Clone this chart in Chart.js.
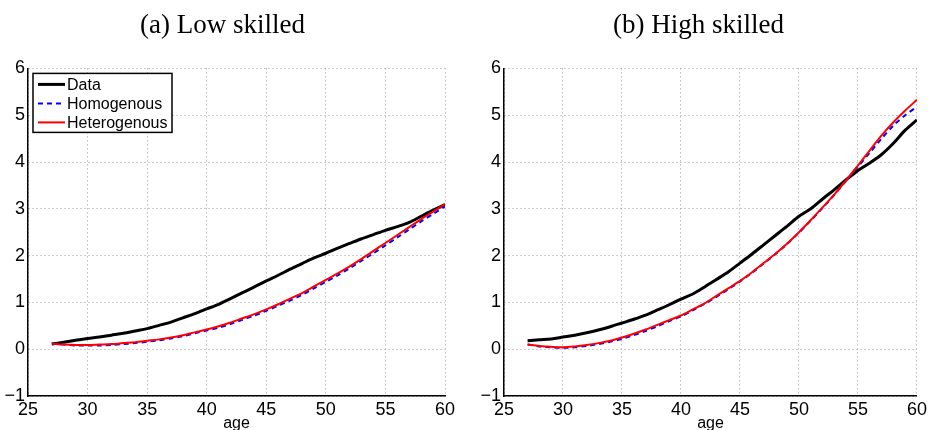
<!DOCTYPE html>
<html>
<head>
<meta charset="utf-8">
<script src="https://cdn.jsdelivr.net/npm/chart.js@4.4.1/dist/chart.umd.min.js"></script>
<style>
  body { margin: 0; background: #fff; width: 930px; height: 430px; overflow: hidden; position: relative; }
  .panel { position: absolute; top: 0; }
</style>
</head>
<body>
<div class="panel" style="left:0px;width:460px;height:430px"><canvas id="low"></canvas></div>
<div class="panel" style="left:476px;width:454px;height:430px"><canvas id="high"></canvas></div>
<script>
// ages 27..60
const ages = [27,28,29,30,31,32,33,34,35,36,37,38,39,40,41,42,43,44,45,46,47,48,49,50,51,52,53,54,55,56,57,58,59,60];

// (a) low skilled
const lowData = [0.11,0.15,0.19,0.23,0.26,0.30,0.34,0.39,0.44,0.51,0.58,0.67,0.76,0.86,0.96,1.08,1.21,1.33,1.46,1.58,1.71,1.83,1.95,2.05,2.16,2.26,2.36,2.45,2.54,2.62,2.71,2.84,2.97,3.09];
const lowHomo = [0.12,0.10,0.08,0.08,0.08,0.09,0.11,0.13,0.16,0.19,0.23,0.28,0.34,0.40,0.46,0.54,0.63,0.72,0.82,0.93,1.04,1.16,1.30,1.44,1.58,1.73,1.89,2.05,2.22,2.39,2.56,2.73,2.89,3.05];
const lowHetero = [0.12,0.10,0.09,0.09,0.10,0.11,0.13,0.15,0.18,0.21,0.25,0.30,0.36,0.42,0.49,0.57,0.66,0.75,0.85,0.96,1.08,1.20,1.34,1.48,1.62,1.77,1.93,2.10,2.27,2.44,2.61,2.78,2.94,3.10];

// (b) high skilled
const highData = [0.18,0.20,0.22,0.26,0.30,0.35,0.41,0.48,0.56,0.64,0.73,0.84,0.95,1.07,1.18,1.33,1.49,1.65,1.84,2.03,2.23,2.43,2.63,2.84,3.00,3.21,3.41,3.62,3.82,3.98,4.16,4.40,4.68,4.90];
const highHomo = [0.10,0.06,0.04,0.03,0.04,0.07,0.11,0.16,0.22,0.30,0.39,0.49,0.60,0.70,0.83,0.97,1.12,1.28,1.45,1.63,1.83,2.03,2.25,2.49,2.75,3.02,3.30,3.60,3.90,4.20,4.50,4.78,5.00,5.18];
const highHetero = [0.10,0.07,0.05,0.04,0.06,0.09,0.13,0.18,0.25,0.33,0.42,0.52,0.62,0.72,0.85,0.98,1.14,1.30,1.46,1.64,1.84,2.04,2.26,2.50,2.76,3.03,3.31,3.61,3.93,4.25,4.57,4.85,5.10,5.33];

const seriesNames = ['Data', 'Homogenous', 'Heterogenous'];
const xTicks = [25,30,35,40,45,50,55,60];
const yTicks = [-1,0,1,2,3,4,5,6];

function pts(ys) { return ages.map((a, i) => ({ x: a, y: ys[i] })); }

function makeSets(d, ho, he) {
  return [
    { label: seriesNames[0], data: pts(d), borderColor: '#000', borderWidth: 3, order: 3 },
    { label: seriesNames[1], data: pts(ho), borderColor: '#0000ff', borderWidth: 2, borderDash: [5, 4], order: 2 },
    { label: seriesNames[2], data: pts(he), borderColor: '#ff0000', borderWidth: 2, order: 1 }
  ];
}

// legend box drawn inside the plot, top-left
const boxLegend = {
  id: 'boxLegend',
  afterDraw(chart, args, opts) {
    if (!opts.show) return;
    const ctx = chart.ctx, a = chart.chartArea;
    const x0 = a.left + 5, y0 = a.top + 5, w = 139, h = 59;
    ctx.save();
    ctx.fillStyle = '#fff';
    ctx.fillRect(x0, y0, w, h);
    ctx.strokeStyle = '#000';
    ctx.lineWidth = 1.5;
    ctx.strokeRect(x0, y0, w, h);
    ctx.font = '16px "Liberation Sans", Arial, sans-serif';
    ctx.textBaseline = 'middle';
    chart.data.datasets.forEach((ds, i) => {
      const yy = y0 + 11 + i * 19;
      ctx.beginPath();
      ctx.setLineDash(ds.borderDash || []);
      ctx.strokeStyle = ds.borderColor;
      ctx.lineWidth = ds.borderWidth;
      ctx.moveTo(x0 + 5, yy);
      ctx.lineTo(x0 + 32, yy);
      ctx.stroke();
      ctx.setLineDash([]);
      ctx.fillStyle = '#000';
      ctx.fillText(ds.label, x0 + 34, yy + 1);
    });
    ctx.restore();
  }
};

function makeChart(id, title, d, ho, he, showLegend) {
  return new Chart(document.getElementById(id), {
    type: 'line',
    data: { datasets: makeSets(d, ho, he) },
    plugins: [boxLegend],
    options: {
      responsive: true,
      maintainAspectRatio: false,
      animation: false,
      layout: { padding: { left: 0, right: id === 'low' ? 15 : 9, top: 0, bottom: -3 } },
      elements: { point: { radius: 0 }, line: { tension: 0.3, fill: false } },
      plugins: {
        legend: { display: false },
        tooltip: { enabled: false },
        boxLegend: { show: showLegend },
        title: {
          display: true,
          text: title,
          color: '#000',
          font: { family: '"Liberation Serif", "DejaVu Serif", serif', size: 27, weight: 'normal' },
          padding: { top: 10, bottom: 26 }
        }
      },
      scales: {
        x: {
          type: 'linear',
          min: 25, max: 60,
          afterBuildTicks: s => { s.ticks = xTicks.map(v => ({ value: v })); },
          afterFit: s => { s.height = 37; },
          grid: { color: '#9a9a9a', lineWidth: 1, drawTicks: false },
          border: { display: true, color: '#000', width: 1.5, dash: [1, 3] },
          ticks: { color: '#000', padding: 3, maxRotation: 0, font: { family: '"Liberation Sans", Arial, sans-serif', size: 18 } },
          title: { display: true, text: 'age', color: '#000', padding: 0, font: { family: '"Liberation Sans", Arial, sans-serif', size: 16 } }
        },
        y: {
          min: -1, max: 6,
          afterBuildTicks: s => { s.ticks = yTicks.map(v => ({ value: v })); },
          afterFit: s => { s.width = 28; },
          grid: { color: '#9a9a9a', lineWidth: 1, drawTicks: false },
          border: { display: true, color: '#000', width: 1.5, dash: [1, 3] },
          ticks: {
            color: '#000', padding: 3,
            font: { family: '"Liberation Sans", Arial, sans-serif', size: 18 },
            callback: v => String(v).replace('-', '\u2212')
          }
        }
      }
    }
  });
}

makeChart('low', '(a) Low skilled', lowData, lowHomo, lowHetero, true);
makeChart('high', '(b) High skilled', highData, highHomo, highHetero, false);
</script>
</body>
</html>
